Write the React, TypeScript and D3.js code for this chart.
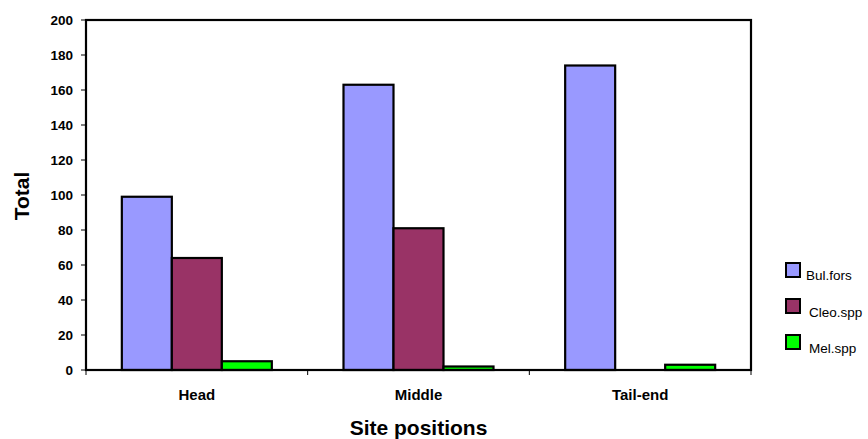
import React from "react";
import * as d3 from "d3";

const categories = ["Head", "Middle", "Tail-end"];
const seriesNames = ["Bul.fors", "Cleo.spp", "Mel.spp"];
const bulFors = [99, 163, 174];
const cleoSpp = [64, 81, 0];
const melSpp = [5, 2, 3];
const yTicks = [0, 20, 40, 60, 80, 100, 120, 140, 160, 180, 200];
const colors = ["#9999FF", "#993366", "#00FF00"];

const W = 868;
const H = 439;
const left = 86;
const right = 751;
const top = 20;
const bottom = 370;

export default function App() {
  const seriesValues = [bulFors, cleoSpp, melSpp];
  const x0 = d3.scaleBand<string>().domain(categories).range([left, right]).paddingInner(0).paddingOuter(0);
  const groupW = 150;
  const x1 = d3
    .scaleBand<string>()
    .domain(seriesNames)
    .range([0, groupW])
    .padding(0);
  const y = d3.scaleLinear().domain([0, 200]).range([bottom, top]);
  const font = "Liberation Sans, Arial, sans-serif";

  return (
    <svg
      width={W}
      height={H}
      style={{ position: "absolute", left: 0, top: 0, background: "#fff" }}
      fontFamily={font}
    >
      {/* bars */}
      {categories.map((c, ci) => {
        const gx = (x0(c) as number) + (x0.bandwidth() - groupW) / 2;
        return seriesNames.map((s, si) => {
          const v = seriesValues[si][ci];
          if (v <= 0) return null;
          return (
            <rect
              key={c + s}
              x={gx + (x1(s) as number)}
              y={y(v)}
              width={x1.bandwidth()}
              height={bottom - y(v)}
              fill={colors[si]}
              stroke="#000"
              strokeWidth={2.2}
            />
          );
        });
      })}
      {/* plot frame */}
      <rect x={left} y={top} width={right - left} height={bottom - top} fill="none" stroke="#000" strokeWidth={2.2} />
      {/* y ticks */}
      {yTicks.map((t) => (
        <g key={t}>
          <line x1={left - 5} x2={left} y1={y(t)} y2={y(t)} stroke="#000" strokeWidth={1} />
          <text x={73} y={y(t)} dy="0.35em" textAnchor="end" fontSize={13.5} fontWeight="bold">
            {t}
          </text>
        </g>
      ))}
      {/* x ticks */}
      {categories.map((c) => (
        <line key={"t" + c} x1={x0(c)} x2={x0(c)} y1={bottom} y2={bottom + 5} stroke="#000" strokeWidth={1} />
      ))}
      <line x1={right} x2={right} y1={bottom} y2={bottom + 5} stroke="#000" strokeWidth={1} />
      {categories.map((c) => (
        <text
          key={"l" + c}
          x={(x0(c) as number) + x0.bandwidth() / 2}
          y={400}
          textAnchor="middle"
          fontSize={15}
          fontWeight="bold"
        >
          {c}
        </text>
      ))}
      {/* axis titles */}
      <text x={(left + right) / 2} y={435} textAnchor="middle" fontSize={21} fontWeight="bold">
        Site positions
      </text>
      <text
        transform={`translate(29, ${(top + bottom) / 2 + 1}) rotate(-90)`}
        textAnchor="middle"
        fontSize={21}
        fontWeight="bold"
      >
        Total
      </text>
      {/* legend */}
      {seriesNames.map((s, i) => (
        <g key={"lg" + s}>
          <rect x={786} y={263 + i * 36} width={14} height={14} fill={colors[i]} stroke="#000" strokeWidth={2} />
          <text x={i === 0 ? 806 : 809} y={280 + i * 36.5} fontSize={13.5}>
            {s}
          </text>
        </g>
      ))}
    </svg>
  );
}
